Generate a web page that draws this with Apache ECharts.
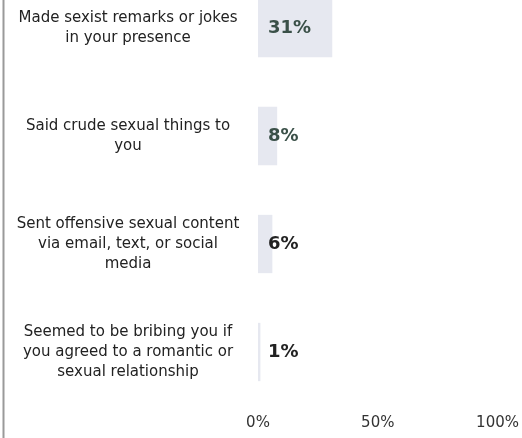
<!DOCTYPE html>
<html>
<head>
<meta charset="utf-8">
<script src="https://cdn.jsdelivr.net/npm/echarts@6/dist/echarts.min.js"></script>
<style>
  html, body { margin: 0; padding: 0; background: #ffffff; overflow: hidden; }
  /* the plot starts above the visible top edge, so the chart canvas is shifted up */
  #chart { position: absolute; left: 0; top: -26px; width: 522px; height: 464px; }
</style>
</head>
<body>
<div id="chart"></div>
<script>
// Behaviours reported, one line break per wrapped line
const categories = [
  'Made sexist remarks or jokes\nin your presence',
  'Said crude sexual things to\nyou',
  'Sent offensive sexual content\nvia email, text, or social\nmedia',
  'Seemed to be bribing you if\nyou agreed to a romantic or\nsexual relationship'
];
// Share of respondents, percent
const values = [31, 8, 6, 1];
// Percent axis ticks
const tickValues = [0, 50, 100];

// Value label colours, one per bar
const labelColors = ['#3a5048', '#3a5048', '#222222', '#222222'];

const chart = echarts.init(document.getElementById('chart'), null, { renderer: 'canvas' });

chart.setOption({
  animation: false,
  backgroundColor: '#ffffff',
  textStyle: { fontFamily: 'DejaVu Sans, Verdana, sans-serif' },
  grid: { left: 258, right: 20, top: 0, bottom: 32, containLabel: false },
  xAxis: {
    type: 'value',
    min: tickValues[0],
    max: tickValues[tickValues.length - 1],
    interval: tickValues[1] - tickValues[0],
    axisLine: { show: false },
    axisTick: { show: false },
    splitLine: { show: false },
    axisLabel: {
      formatter: '{value}%',
      color: '#333333',
      fontSize: 15,
      margin: 10
    }
  },
  yAxis: {
    type: 'category',
    inverse: true,
    data: categories,
    axisLine: { show: false },
    axisTick: { show: false },
    axisLabel: {
      align: 'center',
      margin: 130,
      color: '#222222',
      fontSize: 15,
      lineHeight: 20
    }
  },
  series: [{
    type: 'bar',
    data: values.map((v, i) => ({ value: v, label: { color: labelColors[i] } })),
    barWidth: '54%',
    itemStyle: { color: '#e6e8f0' },
    label: {
      show: true,
      position: [10, '50%'],
      verticalAlign: 'middle',
      formatter: '{c}%',
      fontSize: 18,
      fontWeight: 'bold'
    }
  }],
  graphic: [{
    type: 'rect',
    shape: { x: 2.5, y: 26, width: 2, height: 438 },
    style: { fill: '#9a9a9a' }
  }]
});
</script>
</body>
</html>
